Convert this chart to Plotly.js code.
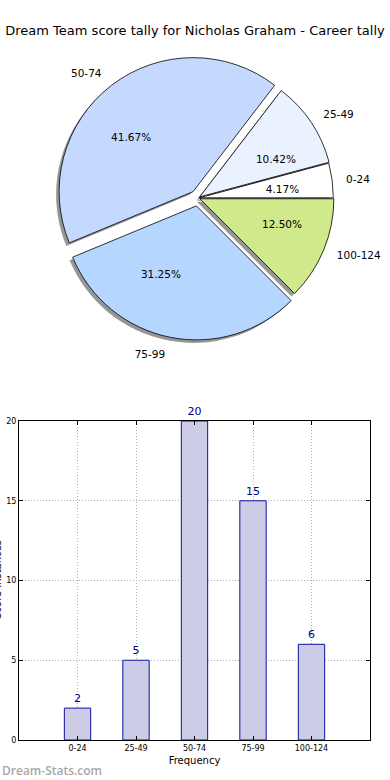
<!DOCTYPE html>
<html><head><meta charset="utf-8">
<script src="https://cdn.plot.ly/plotly-3.0.1.min.js"></script>
<style>html,body{margin:0;padding:0;background:#fff}#chart{width:390px;height:780px}</style>
</head><body><div id="chart"></div>
<script>
// ---- data ----
const categories = ['0-24', '25-49', '50-74', '75-99', '100-124'];
const counts = [2, 5, 20, 15, 6];
const yTicks = [0, 5, 10, 15, 20];
const titleText = 'Dream Team score tally for Nicholas Graham - Career tally';
const xTitle = 'Frequency';
const yTitle = 'Score Instances';
const watermark = 'Dream-Stats.com';

// ---- styles ----
const sliceColors = ['#ffffff', '#eaf1ff', '#c5d9ff', '#b5d7ff', '#cfe98b'];
const explode = [0.01, 0.015, 0.06, 0.06, 0.015];
const FONT = 'DejaVu Sans, sans-serif';

const W = 390, H = 780;
const M = {l: 19, r: 20, t: 40, b: 40};
const PW = W - M.l - M.r, PH = H - M.t - M.b;

function dom(cx, cy, r, maxPull) {
  const half = r * (1 + maxPull);
  return {
    x: [(cx - half - M.l) / PW, (cx + half - M.l) / PW],
    y: [1 - (cy + half - M.t) / PH, 1 - (cy - half - M.t) / PH]
  };
}
const PCX = 198, PCY = 198, PR = 134;
const maxPull = Math.max(...explode);
const RP = 64;   // radius of the invisible pie carrying the percentages
const RL = 145;  // radius of the invisible pie carrying the labels
const pctPull = explode.map(p => p * PR / RP);
const lblPull = explode.map(p => p * PR / RL);
const total = counts.reduce((a, b) => a + b, 0);
// counterclockwise pies end the first slice at `rotation`; start it at 3 o'clock
const rot = 90 - 360 * counts[0] / total;

const pieCommon = {
  type: 'pie', labels: categories, values: counts, sort: false,
  direction: 'counterclockwise', rotation: rot, hoverinfo: 'skip', showlegend: false
};
const clear = categories.map(() => 'rgba(0,0,0,0)');

const shadow = Object.assign({}, pieCommon, {
  pull: explode, domain: dom(PCX - 3, PCY + 3, PR, maxPull),
  marker: {colors: categories.map(() => 'rgba(80,80,80,0.6)'), line: {width: 0}},
  textinfo: 'none'
});
const main = Object.assign({}, pieCommon, {
  pull: explode, domain: dom(PCX, PCY, PR, maxPull),
  marker: {colors: sliceColors, line: {color: '#000', width: 0.8}},
  textinfo: 'none'
});
const labelsTrace = Object.assign({}, pieCommon, {
  pull: lblPull, domain: dom(PCX, PCY, RL, Math.max(...lblPull)),
  marker: {colors: clear, line: {width: 0}},
  textinfo: 'label', textposition: 'outside',
  textfont: {family: FONT, size: 10.5, color: '#000'}
});
const pctTrace = Object.assign({}, pieCommon, {
  pull: pctPull, domain: dom(PCX, PCY, RP, Math.max(...pctPull)),
  marker: {colors: clear, line: {width: 0}},
  texttemplate: '%{percent:.2%}', textposition: 'outside',
  textfont: {family: FONT, size: 10.5, color: '#000'}
});

const bars = {
  type: 'bar', x: categories, y: counts, xaxis: 'x', yaxis: 'y',
  width: 0.45,
  marker: {color: '#ccccE6', line: {color: '#1010a0', width: 1}},
  text: counts.map(String), textposition: 'outside', constraintext: 'none',
  cliponaxis: false,
  textfont: {family: FONT, size: 11, color: '#000080'},
  hoverinfo: 'skip', showlegend: false
};

const barTop = 421;
const axisCommon = {
  showline: true, linecolor: '#000', linewidth: 1, mirror: 'ticks',
  ticks: 'inside', ticklen: 4, tickcolor: '#000',
  showgrid: true, gridcolor: '#b0b0b0', griddash: '1px,2px', gridwidth: 1,
  zeroline: false, tickfont: {family: FONT, size: 8, color: '#000'}
};

const layout = {
  width: W, height: H, margin: M,
  paper_bgcolor: '#fff', plot_bgcolor: '#fff',
  showlegend: false,
  title: {text: titleText, x: 0.5, xref: 'container', xanchor: 'center',
          y: 1 - 30 / H, yref: 'container', yanchor: 'middle',
          font: {family: FONT, size: 13, color: '#000'}},
  xaxis: Object.assign({}, axisCommon, {
    domain: [0, 1], anchor: 'y', type: 'category', range: [-1, 5],
    title: {text: xTitle, font: {family: FONT, size: 10, color: '#000'}, standoff: 5}
  }),
  yaxis: Object.assign({}, axisCommon, {
    domain: [0, (M.t + PH - barTop) / PH], anchor: 'x', range: [0, 20],
    tickvals: yTicks, ticktext: yTicks.map(String)
  }),
  annotations: [{
    text: watermark, showarrow: false,
    xref: 'paper', yref: 'paper', x: -M.l / PW, xanchor: 'left',
    y: -(770 - (M.t + PH)) / PH, yanchor: 'middle',
    font: {family: 'Open Sans, sans-serif', size: 12, color: '#a8a8a8', weight: 600}
  }, {
    text: yTitle, showarrow: false, textangle: -90,
    xref: 'paper', yref: 'paper', x: (-3 - M.l) / PW, xanchor: 'center',
    y: 1 - (580 - M.t) / PH, yanchor: 'middle',
    font: {family: FONT, size: 10, color: '#000'}
  }]
};

Plotly.newPlot('chart', [shadow, main, labelsTrace, pctTrace, bars], layout, {displayModeBar: false, staticPlot: true});
</script></body></html>
